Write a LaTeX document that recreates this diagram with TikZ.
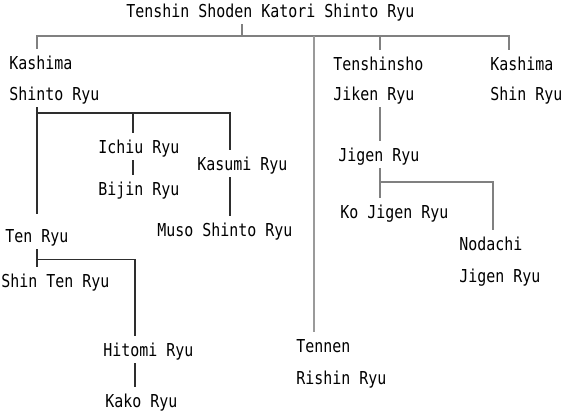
\documentclass[tikz,border=0pt]{standalone}
\usepackage{fontspec}
\usepackage{tikz}
\usepackage{xcolor}
\newfontfamily\gothic{DejaVu Sans Mono}[FakeStretch=0.84]
\definecolor{trunkgray}{HTML}{808080}
\definecolor{palegray}{HTML}{9A9A9A}
\definecolor{twigdark}{HTML}{2E2E2E}
\tikzset{
    ryu/.style={anchor=base west,inner xsep=0pt,inner ysep=5.25pt,
        text height=9.75pt,text depth=0pt,
        font=\gothic\fontsize{13.35pt}{16pt}\selectfont},
    trunk/.style={draw=trunkgray,line width=1.5pt},
    pale/.style={draw=palegray,line width=1.5pt},
    twig/.style={draw=twigdark,line width=0.8pt}
}

\begin{document}
\begin{tikzpicture}[x=0.75pt,y=-0.75pt]
    \useasboundingbox (0,0) rectangle (569,411);
    \foreach \name/\x/\y/\txt in {title/126/17/Tenshin Shoden Katori Shinto Ryu,
        kashimaL/9/69/Kashima, shintoA/9/100/Shinto Ryu,
        tenshinsho/333/70/Tenshinsho, jiken/333/100/Jiken Ryu,
        kashimaR/490/70/Kashima, shinRyu/490/100/Shin Ryu,
        ichiu/98/153/Ichiu Ryu, bijin/98/195/Bijin Ryu,
        kasumi/197/170/Kasumi Ryu, muso/157/236/Muso Shinto Ryu,
        tenRyu/5/242/Ten Ryu, shinTen/1/287/Shin Ten Ryu,
        hitomi/103/356/Hitomi Ryu, kako/105/407/Kako Ryu,
        jigenA/338/161/Jigen Ryu, koJigen/340/218/Ko Jigen Ryu,
        nodachi/459/250/Nodachi, jigenB/459/282/Jigen Ryu,
        tennen/296/352/Tennen, rishin/296/384/Rishin Ryu}
    {
        \node[ryu] (\name) at (\x,\y) {\txt};
    }
    % top level
    \coordinate (barT) at (242,35.5);
    \coordinate (barL) at (37,35.5);
    \coordinate (barR) at (509,35.5);
    \coordinate (barN) at (314,35.5);
    \coordinate (barJ) at (380,35.5);
    \draw[trunk] (title.south -| barT) -- (barT);
    \draw[trunk] (kashimaL.north -| barL) -- (barL) -- (barR) -- (kashimaR.north -| barR);
    \draw[trunk] (barJ) -- (tenshinsho.north -| barJ);
    \draw[pale] (barN) -- (tennen.north -| barN);
    % jigen branch
    \coordinate (forkJ) at (380,182);
    \coordinate (forkN) at (493,182);
    \draw[trunk] (jiken.south -| barJ) -- (jigenA.north -| barJ);
    \draw[trunk] (jigenA.south -| forkJ) -- (koJigen.north -| forkJ);
    \draw[trunk] (forkJ) -- (forkN) -- (nodachi.north -| forkN);
    % kashima shinto branch
    \coordinate (forkK) at (37,113);
    \coordinate (forkI) at (133,113);
    \coordinate (forkM) at (230,113);
    \draw[twig] (shintoA.south -| forkK) -- ([yshift=6pt]tenRyu.north -| forkK);
    \draw[twig] (forkK) -- (forkM) -- (kasumi.north -| forkM);
    \draw[twig] (forkI) -- (ichiu.north -| forkI);
    \draw[twig] (ichiu.south -| forkI) -- (bijin.north -| forkI);
    \draw[twig] (kasumi.south -| forkM) -- (muso.north -| forkM);
    \coordinate (forkT) at (37,259.5);
    \coordinate (forkH) at (135,259.5);
    \draw[twig] (tenRyu.south -| forkT) -- (shinTen.north -| forkT);
    \draw[twig] (forkT) -- (forkH) -- (hitomi.north -| forkH);
    \draw[twig] (hitomi.south -| forkH) -- (kako.north -| forkH);
\end{tikzpicture}
\end{document}
